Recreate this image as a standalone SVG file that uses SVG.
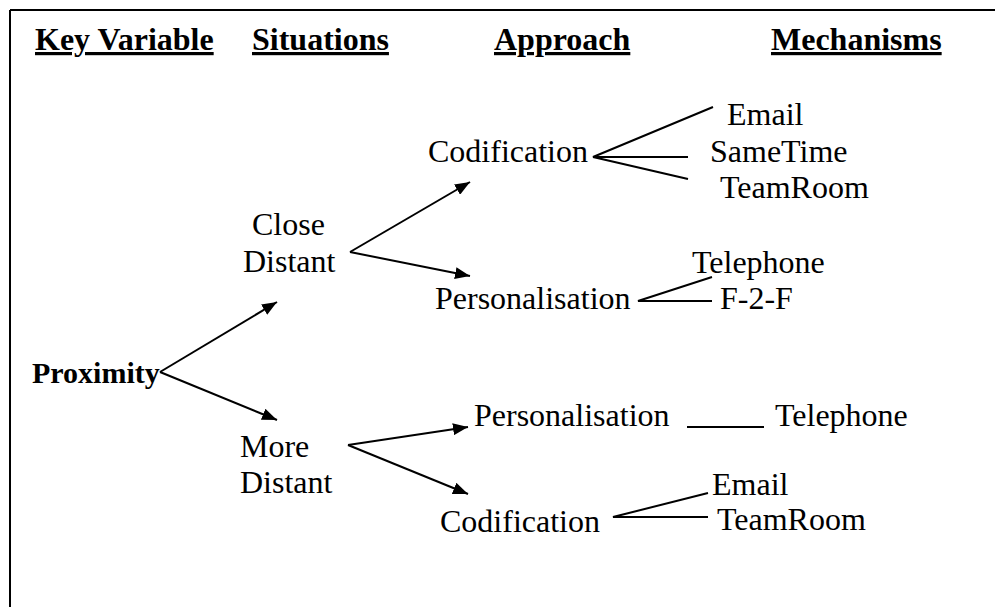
<svg xmlns="http://www.w3.org/2000/svg" width="995" height="607" viewBox="0 0 995 607">
<style>
text { font-family: "Liberation Serif", "Times New Roman", serif; font-size: 32px; fill: #000; }
.hd { font-weight: bold; text-decoration: underline; }
.bd { font-weight: bold; font-size: 30px; }
.ln { stroke: #000; stroke-width: 2; fill: none; }
.ar { stroke: #000; stroke-width: 2; fill: none; marker-end: url(#ah); }
</style>
<defs>
<marker id="ah" markerUnits="userSpaceOnUse" markerWidth="16" markerHeight="12" refX="15" refY="6" orient="auto">
<path d="M0,0 L15,6 L0,12 z" fill="#000"/>
</marker>
</defs>
<rect width="995" height="607" fill="#fff"/>
<g id="border">
<path class="ln" d="M10,10 H995 M10,10 V607"/>
</g>
<g id="headers">
<text class="hd" x="35" y="50">Key Variable</text>
<text class="hd" x="252" y="50">Situations</text>
<text class="hd" x="494" y="50">Approach</text>
<text class="hd" x="771" y="50">Mechanisms</text>
</g>
<g id="proximity"><text class="bd" x="32" y="383">Proximity</text></g>
<g id="close-distant">
<text x="252" y="235">Close</text>
<text x="243" y="272">Distant</text>
</g>
<g id="more-distant">
<text x="240" y="457">More</text>
<text x="240" y="493">Distant</text>
</g>
<g id="codification-1"><text x="428" y="162">Codification</text></g>
<g id="personalisation-1"><text x="435" y="309">Personalisation</text></g>
<g id="personalisation-2"><text x="474" y="426">Personalisation</text></g>
<g id="codification-2"><text x="440" y="532">Codification</text></g>
<g id="email-1"><text x="727" y="125">Email</text></g>
<g id="sametime"><text x="710" y="162">SameTime</text></g>
<g id="teamroom-1"><text x="720" y="198">TeamRoom</text></g>
<g id="telephone-1"><text x="692" y="273">Telephone</text></g>
<g id="f2f"><text x="720" y="309">F-2-F</text></g>
<g id="telephone-2"><text x="775" y="426">Telephone</text></g>
<g id="email-2"><text x="712" y="495">Email</text></g>
<g id="teamroom-2"><text x="717" y="530">TeamRoom</text></g>
<g id="connectors">
<line class="ar" x1="160" y1="372" x2="277" y2="302"/>
<line class="ar" x1="160" y1="372" x2="277" y2="420"/>
<line class="ar" x1="350" y1="252" x2="470" y2="182"/>
<line class="ar" x1="350" y1="252" x2="470" y2="276"/>
<line class="ar" x1="348" y1="445" x2="468" y2="427"/>
<line class="ar" x1="348" y1="445" x2="468" y2="494"/>
<path class="ln" d="M713,107 L593,157 L688,157 M593,157 L688,179"/>
<path class="ln" d="M712,277 L638,301 L712,301"/>
<line class="ln" x1="687" y1="427" x2="764" y2="427"/>
<path class="ln" d="M708,493 L613,517 L708,517"/>
</g>
</svg>
